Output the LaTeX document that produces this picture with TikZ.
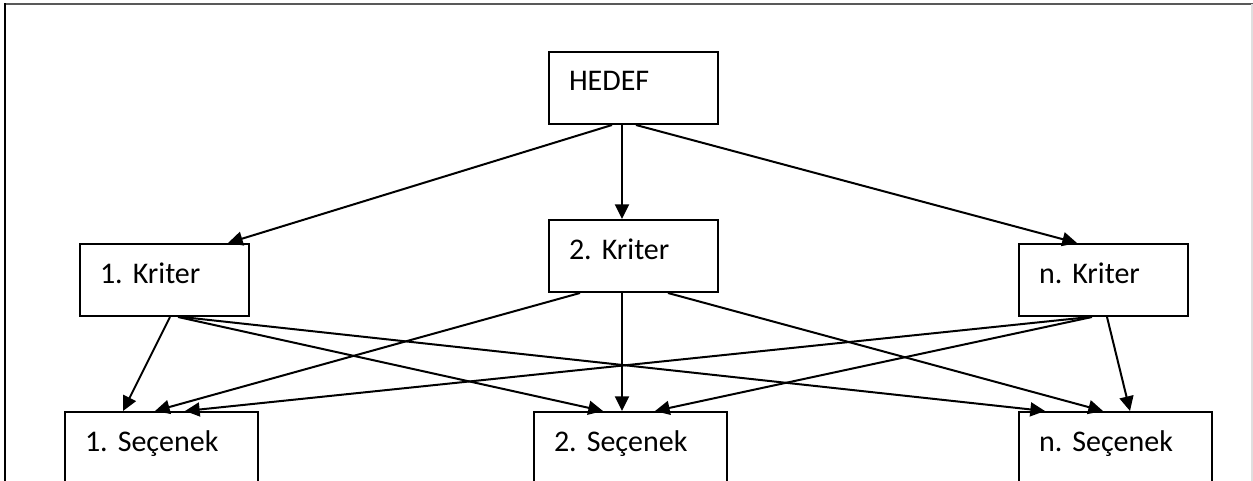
\documentclass[tikz,border=0pt]{standalone}
\usepackage{fontspec}
\setmainfont{Carlito}
\usetikzlibrary{arrows.meta,calc}
\frenchspacing
\begin{document}
\begin{tikzpicture}[x=0.75pt,y=-0.75pt,
  box/.style={draw=black, line width=1.5pt, rectangle, anchor=north west,
    inner xsep=15pt, inner ysep=0pt, text height=29.25pt, text depth=24.75pt,
    align=left, font=\fontsize{22.5pt}{27pt}\selectfont},
  narrowbox/.style={box, text width=96.75pt},
  widebox/.style={box, text width=114.75pt},
  arr/.style={line width=1.5pt, -{Triangle[length=11pt,width=10.5pt]}}]
\useasboundingbox (0,0) rectangle (1253,481);
\clip (0,0) rectangle (1253,481);
% frame
\draw[line width=1.6pt, gray!70!black] (4,4) -- (1253,4);
\draw[line width=1.5pt, black] (5,3.5) -- (5,481);
\draw[line width=1pt, gray!25] (1252,4) -- (1252,481);
% nodes
\node[narrowbox] (hedef) at (548,51) {HEDEF};
\node[narrowbox] (k1) at (79,243) {1. Kriter};
\node[narrowbox] (k2) at (548,219) {2. Kriter};
\node[narrowbox] (kn) at (1018,243) {n. Kriter};
\node[widebox] (s1) at (64,411) {1. Seçenek};
\node[widebox] (s2) at (533,411) {2. Seçenek};
\node[widebox] (sn) at (1018,411) {n. Seçenek};
% connectors from HEDEF
\draw[arr] ($(hedef.south west)+(64,0)$) -- ($(k1.north west)+(149,0)$);
\draw[arr] ($(hedef.south west)+(74,0)$) -- ($(k2.north west)+(74,0)$);
\draw[arr] ($(hedef.south west)+(88,0)$) -- ($(kn.north west)+(59,0)$);
% from 1. Kriter
\draw[arr] ($(k1.south west)+(91,0)$) -- ($(s1.north west)+(59,0)$);
\draw[arr] ($(k1.south west)+(99,0)$) -- ($(s2.north west)+(70,0)$);
\draw[arr] ($(k1.south west)+(103,0)$) -- ($(sn.north west)+(27,0)$);
% from 2. Kriter
\draw[arr] ($(k2.south west)+(32,0)$) -- ($(s1.north west)+(91,0)$);
\draw[arr] ($(k2.south west)+(74,0)$) -- ($(s2.north west)+(89,0)$);
\draw[arr] ($(k2.south west)+(120,0)$) -- ($(sn.north west)+(85,0)$);
% from n. Kriter
\draw[arr] ($(kn.south west)+(72,0)$) -- ($(s1.north west)+(121,0)$);
\draw[arr] ($(kn.south west)+(74,0)$) -- ($(s2.north west)+(122,0)$);
\draw[arr] ($(kn.south west)+(89,0)$) -- ($(sn.north west)+(112,0)$);
\end{tikzpicture}
\end{document}
